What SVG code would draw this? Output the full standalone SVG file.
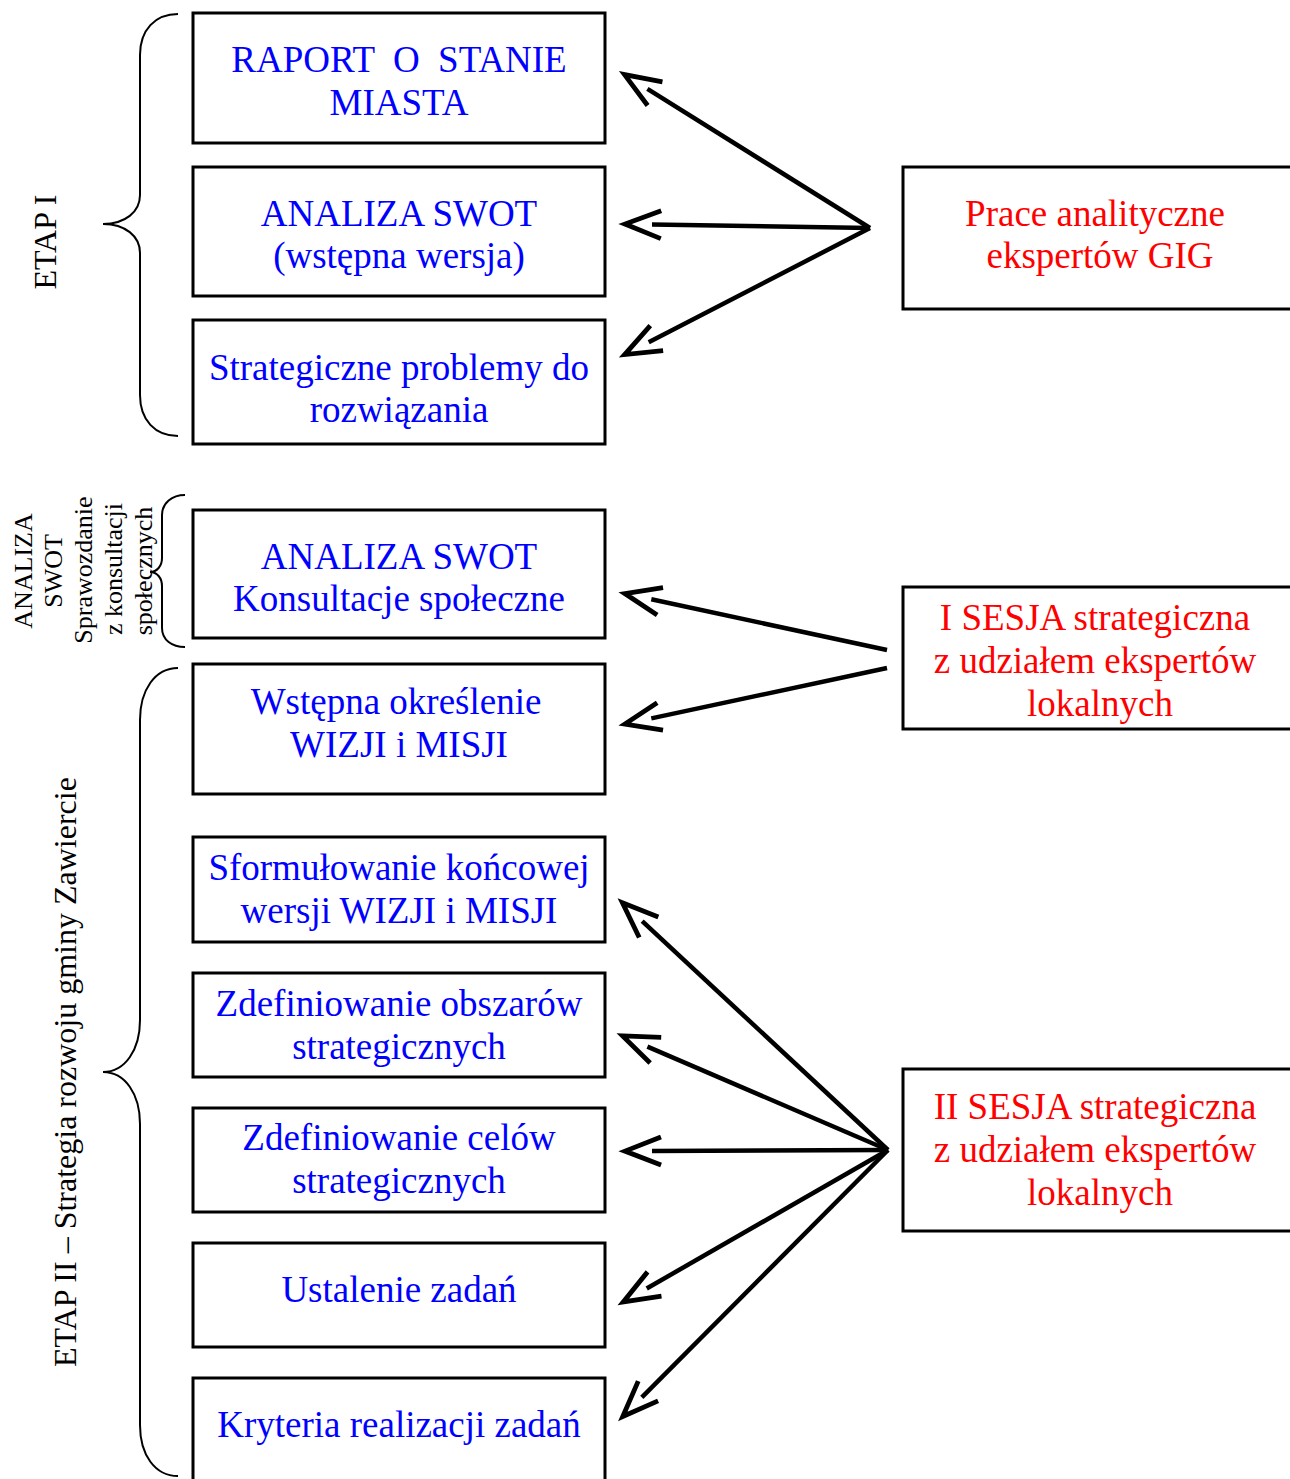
<svg xmlns="http://www.w3.org/2000/svg" width="1290" height="1479" viewBox="0 0 1290 1479">
<style>
.box{fill:#fff;stroke:#000;stroke-width:3}
.brace{fill:none;stroke:#000;stroke-width:2}
.t{font-family:"Liberation Serif","Times New Roman",serif;font-size:37px;text-anchor:middle}
.b{fill:#0000ff}
.r{fill:#ff0000}
.lab{font-family:"Liberation Serif","Times New Roman",serif;fill:#000;text-anchor:middle}
.arr{stroke:#000;stroke-width:4.5;fill:none;marker-end:url(#ah)}
</style>
<defs>
<marker id="ah" markerUnits="userSpaceOnUse" orient="auto" overflow="visible" markerWidth="10" markerHeight="10" refX="0" refY="0">
<path d="M-9,-14 L27,0 L-9,14" fill="none" stroke="#000" stroke-width="4.8"/>
</marker>
</defs>
<rect width="1290" height="1479" fill="#fff"/>

<g id="labels">
<path class="brace" d="M178,14 C155,14 140,30 140,55 L140,195 C140,212 125,224 103,224 C125,224 140,236 140,253 L140,395 C140,420 155,436 178,436"/>
<path class="brace" d="M178,668 C155,668 140,690 140,720 L140,1020 C140,1050 125,1072 103,1072 C125,1072 140,1094 140,1124 L140,1425 C140,1455 155,1476 178,1476"/>
<path class="brace" d="M185,495 C172,495 162,503 162,515 L162,558 C162,566 157,572 150,572 C157,572 162,578 162,586 L162,628 C162,640 172,647 185,647"/>
<text class="lab" font-size="32" transform="translate(56,242) rotate(-90)">ETAP I</text>
<text class="lab" font-size="32" transform="translate(76,1072) rotate(-90)">ETAP II – Strategia rozwoju gminy Zawiercie</text>
<g font-size="26">
<text class="lab" transform="translate(32,571) rotate(-90)">ANALIZA</text>
<text class="lab" transform="translate(62,571) rotate(-90)">SWOT</text>
<text class="lab" transform="translate(92,570) rotate(-90)">Sprawozdanie</text>
<text class="lab" transform="translate(122,569) rotate(-90)">z konsultacji</text>
<text class="lab" transform="translate(152,571) rotate(-90)">społecznych</text>
</g>
</g>

<g id="n1"><rect class="box" x="193" y="13" width="412" height="130"/>
<text class="t b" x="399" y="72" xml:space="preserve">RAPORT  O  STANIE</text><text class="t b" x="399" y="115">MIASTA</text></g>
<g id="n2"><rect class="box" x="193" y="167" width="412" height="129"/>
<text class="t b" x="399" y="226">ANALIZA SWOT</text><text class="t b" x="399" y="268">(wstępna wersja)</text></g>
<g id="n3"><rect class="box" x="193" y="320" width="412" height="124"/>
<text class="t b" x="399" y="380">Strategiczne problemy do</text><text class="t b" x="399" y="422">rozwiązania</text></g>
<g id="n4"><rect class="box" x="193" y="510" width="412" height="128"/>
<text class="t b" x="399" y="569">ANALIZA SWOT</text><text class="t b" x="399" y="611">Konsultacje społeczne</text></g>
<g id="n5"><rect class="box" x="193" y="664" width="412" height="130"/>
<text class="t b" x="396" y="714">Wstępna określenie</text><text class="t b" x="399" y="757">WIZJI i MISJI</text></g>
<g id="n6"><rect class="box" x="193" y="837" width="412" height="105"/>
<text class="t b" x="399" y="880">Sformułowanie końcowej</text><text class="t b" x="399" y="923">wersji WIZJI i MISJI</text></g>
<g id="n7"><rect class="box" x="193" y="973" width="412" height="104"/>
<text class="t b" x="399" y="1016">Zdefiniowanie obszarów</text><text class="t b" x="399" y="1059">strategicznych</text></g>
<g id="n8"><rect class="box" x="193" y="1108" width="412" height="104"/>
<text class="t b" x="399" y="1150">Zdefiniowanie celów</text><text class="t b" x="399" y="1193">strategicznych</text></g>
<g id="n9"><rect class="box" x="193" y="1243" width="412" height="104"/>
<text class="t b" x="399" y="1302">Ustalenie zadań</text></g>
<g id="n10"><rect class="box" x="193" y="1378" width="412" height="110"/>
<text class="t b" x="399" y="1437">Kryteria realizacji zadań</text></g>

<g id="r1"><rect class="box" x="903" y="167" width="400" height="142"/>
<text class="t r" x="1095" y="226">Prace analityczne</text><text class="t r" x="1100" y="268">ekspertów GIG</text></g>
<g id="r2"><rect class="box" x="903" y="587" width="400" height="142"/>
<text class="t r" x="1095" y="630">I SESJA strategiczna</text><text class="t r" x="1095" y="673">z udziałem ekspertów</text><text class="t r" x="1100" y="716">lokalnych</text></g>
<g id="r3"><rect class="box" x="903" y="1069" width="400" height="162"/>
<text class="t r" x="1095" y="1119">II SESJA strategiczna</text><text class="t r" x="1095" y="1162">z udziałem ekspertów</text><text class="t r" x="1100" y="1205">lokalnych</text></g>

<g id="connectors">
<line class="arr" x1="870" y1="228" x2="647.4" y2="88.9"/>
<line class="arr" x1="870" y1="228" x2="652" y2="224.5"/>
<line class="arr" x1="870" y1="228" x2="648.7" y2="342.2"/>
<line class="arr" x1="887" y1="650" x2="651.3" y2="599.3"/>
<line class="arr" x1="887" y1="668" x2="651.3" y2="718.4"/>
<line class="arr" x1="888" y1="1150" x2="642.2" y2="921.1"/>
<line class="arr" x1="888" y1="1150" x2="647.4" y2="1046.6"/>
<line class="arr" x1="888" y1="1150" x2="652" y2="1151"/>
<line class="arr" x1="888" y1="1150" x2="646.7" y2="1288.5"/>
<line class="arr" x1="888" y1="1150" x2="641.8" y2="1397.4"/>
</g>
</svg>
